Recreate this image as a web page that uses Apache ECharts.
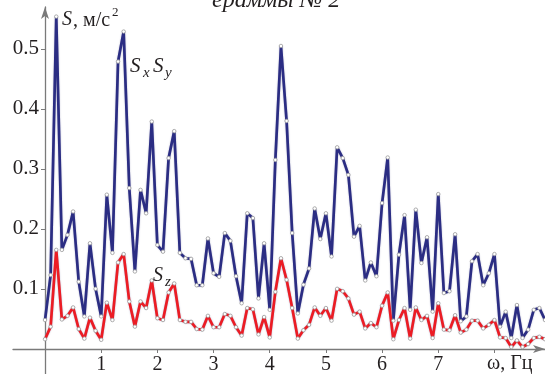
<!DOCTYPE html>
<html>
<head>
<meta charset="utf-8">
<script src="https://cdn.jsdelivr.net/npm/echarts@6/dist/echarts.min.js"></script>
<style>
html,body{margin:0;padding:0;background:#fff;}
#chart{width:545px;height:374px;}
</style>
</head>
<body>
<div id="chart"></div>
<script>
// Frequency, Hz
const freq = [0.0,0.1,0.2,0.3,0.4,0.5,0.6,0.7,0.8,0.9,
  1.0,1.1,1.2,1.3,1.4,1.5,1.6,1.7,1.8,1.9,
  2.0,2.1,2.2,2.3,2.4,2.5,2.6,2.7,2.8,2.9,
  3.0,3.1,3.2,3.3,3.4,3.5,3.6,3.7,3.8,3.9,
  4.0,4.1,4.2,4.3,4.4,4.5,4.6,4.7,4.8,4.9,
  5.0,5.1,5.2,5.3,5.4,5.5,5.6,5.7,5.8,5.9,
  6.0,6.1,6.2,6.3,6.4,6.5,6.6,6.7,6.8,6.9,
  7.0,7.1,7.2,7.3,7.4,7.5,7.6,7.7,7.8,7.9,
  8.0,8.1,8.2,8.3,8.4,8.5,8.6,8.7,8.8,8.9];

// S_x, S_y spectrum (blue)
const sxy = [0.048,0.123,0.554,0.165,0.190,0.229,0.112,0.054,0.176,0.100,
  0.054,0.257,0.160,0.479,0.529,0.268,0.129,0.265,0.226,0.379,
  0.173,0.162,0.318,0.363,0.160,0.151,0.150,0.106,0.106,0.184,
  0.126,0.120,0.193,0.180,0.121,0.076,0.226,0.218,0.084,0.176,
  0.065,0.315,0.505,0.380,0.193,0.059,0.107,0.134,0.234,0.183,
  0.226,0.154,0.336,0.318,0.290,0.187,0.205,0.114,0.144,0.121,
  0.243,0.319,0.047,0.157,0.223,0.065,0.232,0.143,0.186,0.062,
  0.258,0.093,0.096,0.191,0.046,0.054,0.146,0.158,0.106,0.126,
  0.158,0.037,0.062,0.018,0.073,0.018,0.032,0.065,0.068,0.048];

// S_z spectrum (red)
const sz = [0.016,0.037,0.165,0.049,0.055,0.069,0.033,0.017,0.052,0.030,
  0.015,0.077,0.048,0.144,0.158,0.079,0.037,0.079,0.068,0.114,
  0.051,0.048,0.094,0.109,0.048,0.045,0.045,0.033,0.032,0.055,
  0.036,0.036,0.058,0.055,0.036,0.022,0.068,0.066,0.024,0.053,
  0.019,0.095,0.151,0.115,0.068,0.017,0.031,0.040,0.069,0.055,
  0.068,0.047,0.100,0.096,0.084,0.057,0.062,0.034,0.043,0.036,
  0.072,0.094,0.016,0.048,0.068,0.017,0.069,0.048,0.055,0.018,
  0.076,0.032,0.031,0.056,0.027,0.032,0.047,0.047,0.034,0.040,
  0.048,0.019,0.018,0.003,0.014,0.003,0.008,0.018,0.020,0.016];

const xTickLabels = [1,2,3,4,5,6,7];
const xTicks = [1,2,3,4,5,6,7,8];
const yTickLabels = [0.1,0.2,0.3,0.4,0.5];

const SERIF = '"Liberation Serif", "DejaVu Serif", serif';
const chart = echarts.init(document.getElementById('chart'), null, {renderer:'canvas'});

function lineSeries(vals, color) {
  return {
    type: 'line',
    data: freq.map((f, i) => [f, vals[i]]),
    showSymbol: true,
    showAllSymbol: true,
    symbol: 'circle',
    symbolSize: 3.5,
    itemStyle: {color: '#ffffff', borderColor: '#9a9a9a', borderWidth: 0.8},
    lineStyle: {color: color, width: 2.7, shadowColor: 'rgba(160,160,190,0.9)', shadowBlur: 1.5},
    emphasis: {disabled: true},
    animation: false,
    z: 3
  };
}

function txt(text, x, y, size, italic) {
  return {
    type: 'text', x: x, y: y, z: 10,
    style: {
      text: text,
      font: (italic ? 'italic ' : '') + size + 'px ' + SERIF,
      fill: '#231f20',
      textAlign: 'left',
      textVerticalAlign: 'middle'
    }
  };
}

chart.setOption({
  backgroundColor: '#ffffff',
  animation: false,
  grid: {left: 13, right: 0, top: 7, bottom: 0, containLabel: false, outerBoundsMode: 'none'},
  xAxis: {
    type: 'value', min: -0.57, max: 8.9, position: 'bottom', offset: -25,
    axisLine: {show: true, onZero: false, symbol: ['none', 'arrow'], symbolSize: [6, 12],
      lineStyle: {color: '#7a7a7a', width: 1.3}},
    axisTick: {show: true, customValues: xTicks, length: 4, lineStyle: {color: '#7a7a7a'}},
    axisLabel: {customValues: xTickLabels, fontFamily: SERIF, fontSize: 20, color: '#231f20', margin: 6},
    splitLine: {show: false}
  },
  yAxis: {
    type: 'value', min: -0.042, max: 0.57, position: 'left', offset: -32,
    axisLine: {show: true, onZero: false, symbol: ['none', 'arrow'], symbolSize: [6, 12],
      lineStyle: {color: '#7a7a7a', width: 1.3}},
    axisTick: {show: true, customValues: yTickLabels, length: 4, lineStyle: {color: '#7a7a7a'}},
    axisLabel: {customValues: yTickLabels, formatter: v => v.toFixed(1),
      fontFamily: SERIF, fontSize: 21, color: '#231f20', margin: 6},
    splitLine: {show: false}
  },
  series: [lineSeries(sxy, '#2b2d83'), lineSeries(sz, '#ec1c24')],
  graphic: [
    txt('ераммы № 2', 212, 1, 24, true),
    txt('S', 62, 20, 20, true),
    txt(', м/с', 73, 21, 20, false),
    txt('2', 112, 13, 13, false),
    txt('S', 130, 66, 21, true),
    txt('x', 143, 73, 15, true),
    txt('S', 153, 66, 21, true),
    txt('y', 165, 73, 15, true),
    txt('S', 153, 276, 20, true),
    txt('z', 165, 282, 15, true),
    txt('ω, Гц', 487, 364, 20, false)
  ]
});
</script>
</body>
</html>
